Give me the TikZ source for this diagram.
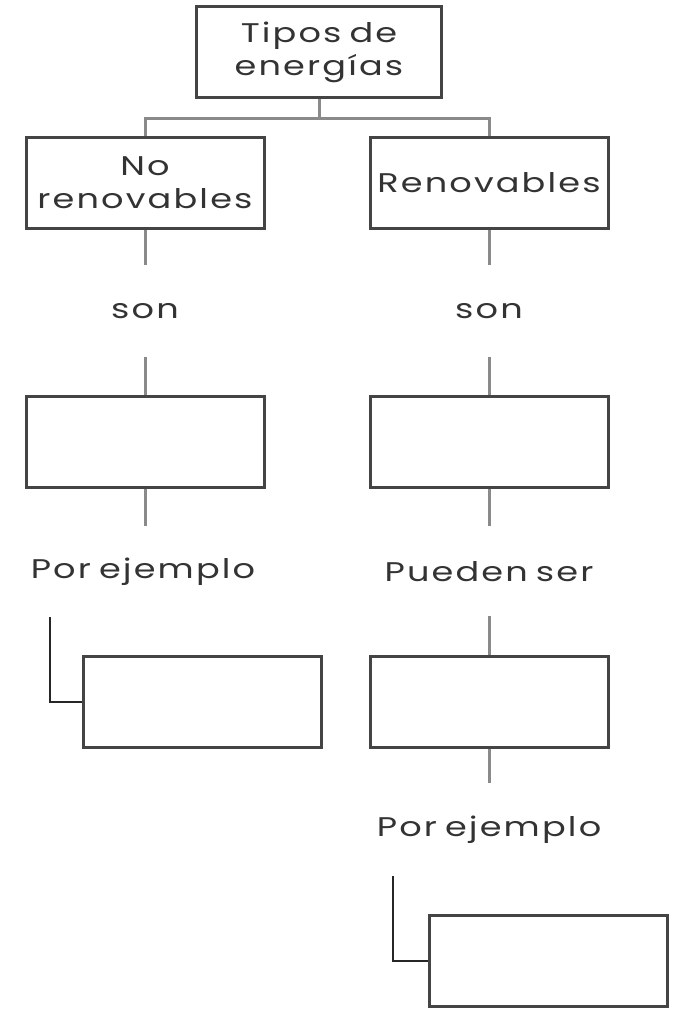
\documentclass[tikz,border=0pt]{standalone}
\usepackage{fontspec}
\setmainfont{Poppins}
\newfontfamily\mapfont[FakeStretch=1.3, LetterSpace=8, WordSpace=0.7]{Poppins}
\definecolor{inktext}{HTML}{333333}
\definecolor{inkbox}{HTML}{444444}
\definecolor{inkline}{HTML}{8A8A8A}
\tikzset{
	box/.style={draw=inkbox, line width=3pt, rectangle, minimum width=238pt, minimum height=91pt,
		align=center, text=inktext, font=\mapfont\fontsize{27}{33}\selectfont, inner sep=0pt},
	lbl/.style={text=inktext, font=\mapfont\fontsize{27}{33}\selectfont, inner sep=0pt, minimum width=10pt},
	conn/.style={draw=inkline, line width=3pt},
	hook/.style={draw=black!85, line width=2.5pt}
}
\begin{document}
\begin{tikzpicture}[x=1pt, y=-1pt]
	\useasboundingbox (0,0) rectangle (677,1011);

	%% The top box
	\node[box, minimum width=245pt] at (319,52.5) (tipos) {Tipos de\\energías};

	%% The two kinds
	\begin{scope}[every node/.style={box}]
		\node at (145,183) (norenov) {No\\renovables};
		\node at (489,183) (renov) {Renovables};
	\end{scope}

	%% The link words, as tall as the gap they sit in
	\begin{scope}[every node/.style={lbl, minimum height=92pt}]
		\node at (145,311) (son-1) {son};
		\node at (489,311) (son-2) {son};
		\node at (143,572) (ejemplo-1) {Por ejemplo};
		\node at (489,572) (pueden) {Pueden ser};
		\node at (489,829.5) (ejemplo-2) {Por ejemplo};
	\end{scope}

	%% The empty boxes
	\begin{scope}[every node/.style={box}]
		\node at (145,441.5) (def-1) {};
		\node at (489,441.5) (def-2) {};
		\node at (202.5,702) (ej-1) {};
		\node at (489,701.5) (tipo-2) {};
		\node at (548,961) (ej-2) {};
	\end{scope}

	%% Connectors
	\draw[conn] (tipos.south) -- ++(0,19) coordinate (split)
		(split) -| (norenov.north)
		(split) -| (renov.north);
	\draw[conn] (norenov.south) -- (son-1.north);
	\draw[conn] (son-1.south) -- (def-1.north);
	\draw[conn] (def-1.south) -- ++(0,37);
	\draw[conn] (renov.south) -- (son-2.north);
	\draw[conn] (son-2.south) -- (def-2.north);
	\draw[conn] (def-2.south) -- ++(0,37);
	\draw[conn] (tipo-2.north) -- ++(0,-39);
	\draw[conn] (tipo-2.south) -- (ejemplo-2.north);

	%% The hooks into the example boxes
	\coordinate (hook-1) at (50,617);
	\coordinate (hook-2) at (393,876);
	\draw[hook] (hook-1) |- (ej-1.west);
	\draw[hook] (hook-2) |- (ej-2.west);

\end{tikzpicture}
\end{document}
